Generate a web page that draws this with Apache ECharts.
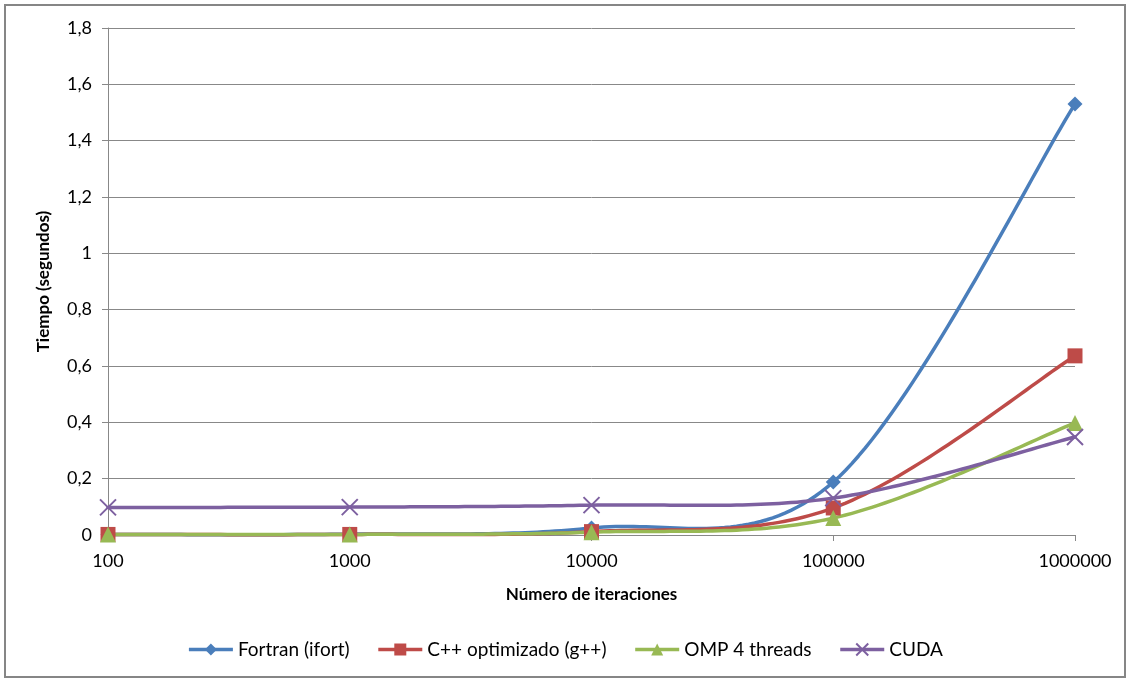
<!DOCTYPE html>
<html><head><meta charset="utf-8">
<script src="https://cdn.jsdelivr.net/npm/echarts@6/dist/echarts.min.js"></script>
<style>html,body{margin:0;padding:0;background:#fff}#c{width:1130px;height:682px}</style>
</head><body><div id="c"></div>
<script>
const categories = ['100', '1000', '10000', '100000', '1000000'];
const fortran = [0.002, 0.003, 0.025, 0.188, 1.53];
const cpp = [0.002, 0.002, 0.012, 0.096, 0.636];
const omp = [0.002, 0.002, 0.010, 0.060, 0.398];
const cuda = [0.098, 0.099, 0.106, 0.131, 0.348];
const seriesNames = ['Fortran (ifort)', 'C++ optimizado (g++)', 'OMP 4 threads', 'CUDA'];
const yTicks = { min: 0, max: 1.8, interval: 0.2 };

const font = 'Lato, "Open Sans", sans-serif';
const colors = ['#4A7EBB', '#BE4B48', '#98B954', '#7D60A0'];
const chart = echarts.init(document.getElementById('c'));

// Catmull-Rom smoothed curve (Excel-like), positioned through the axes via api.coord
function curveSeries(data, color, z) {
  return {
    type: 'custom', coordinateSystem: 'cartesian2d', silent: true, z,
    data: data.map((v, i) => [i, v]),
    renderItem: function (params, api) {
      if (params.dataIndex !== 0) return null;
      const P = data.map((v, i) => api.coord([i, v]));
      const n = P.length, pts = [];
      const g = k => P[Math.max(0, Math.min(n - 1, k))];
      for (let i = 0; i < n - 1; i++) {
        const p0 = g(i - 1), p1 = g(i), p2 = g(i + 1), p3 = g(i + 2);
        const c1 = [p1[0] + (p2[0] - p0[0]) / 6, p1[1] + (p2[1] - p0[1]) / 6];
        const c2 = [p2[0] - (p3[0] - p1[0]) / 6, p2[1] - (p3[1] - p1[1]) / 6];
        for (let s = 0; s <= 40; s++) {
          if (i > 0 && s === 0) continue;
          const t = s / 40, u = 1 - t;
          pts.push([
            u*u*u*p1[0] + 3*u*u*t*c1[0] + 3*u*t*t*c2[0] + t*t*t*p2[0],
            u*u*u*p1[1] + 3*u*u*t*c1[1] + 3*u*t*t*c2[1] + t*t*t*p2[1]
          ]);
        }
      }
      return { type: 'polyline', shape: { points: pts }, style: { fill: null, stroke: color, lineWidth: 3.5, lineJoin: 'round', lineCap: 'round' } };
    }
  };
}
function markerSeries(name, data, color, symbol, size, extra) {
  return Object.assign({
    name, type: 'line', data, smooth: false, symbol, symbolSize: size, z: 5,
    lineStyle: { color, width: 3.5, opacity: 0 },
    itemStyle: { color },
    emphasis: { disabled: true }
  }, extra || {});
}
chart.setOption({
  animation: false,
  backgroundColor: '#fff',
  graphic: [{ type: 'rect', shape: { x: 5, y: 5, width: 1120, height: 672 }, style: { fill: 'none', stroke: '#868686', lineWidth: 2 }, silent: true }],
  grid: { left: 108, right: 55, top: 28, bottom: 147 },
  legend: {
    bottom: 18, left: 'center', itemWidth: 44, itemHeight: 15, itemGap: 27,
    textStyle: { fontFamily: font, fontSize: 19, color: '#000' },
    data: seriesNames.map((n, i) => ({ name: n, lineStyle: { color: colors[i], width: 3.5, opacity: 1 } }))
  },
  xAxis: {
    type: 'category', data: categories, boundaryGap: false,
    name: 'Número de iteraciones', nameLocation: 'middle', nameGap: 51,
    nameTextStyle: { fontFamily: font, fontSize: 17, fontWeight: 'bold', color: '#000' },
    axisLine: { lineStyle: { color: '#888', width: 1 } },
    axisTick: { show: true, length: 6, lineStyle: { color: '#888' }, alignWithLabel: true },
    axisLabel: { fontFamily: font, fontSize: 18, color: '#000', margin: 17 },
    splitLine: { show: false }
  },
  yAxis: {
    type: 'value', min: yTicks.min, max: yTicks.max, interval: yTicks.interval,
    name: 'Tiempo (segundos)', nameLocation: 'middle', nameGap: 56, nameRotate: 90,
    nameTextStyle: { fontFamily: font, fontSize: 17, fontWeight: 'bold', color: '#000' },
    axisLine: { show: true, lineStyle: { color: '#888', width: 1 } },
    axisTick: { show: true, length: 6, lineStyle: { color: '#888' } },
    axisLabel: { fontFamily: font, fontSize: 18, color: '#000', margin: 16,
      formatter: v => String(Math.round(v * 10) / 10).replace('.', ',') },
    splitLine: { lineStyle: { color: '#888', width: 1 } }
  },
  series: [
    curveSeries(fortran, colors[0], 2),
    curveSeries(cpp, colors[1], 2),
    curveSeries(omp, colors[2], 2),
    curveSeries(cuda, colors[3], 2),
    markerSeries(seriesNames[0], fortran, colors[0], 'diamond', 15),
    markerSeries(seriesNames[1], cpp, colors[1], 'rect', 15),
    markerSeries(seriesNames[2], omp, colors[2], 'triangle', 16),
    markerSeries(seriesNames[3], cuda, colors[3], 'path://M0,0L10,10M10,0L0,10', 16, {
      itemStyle: { color: 'rgba(0,0,0,0)', borderColor: colors[3], borderWidth: 2 }
    })
  ]
});
</script></body></html>
